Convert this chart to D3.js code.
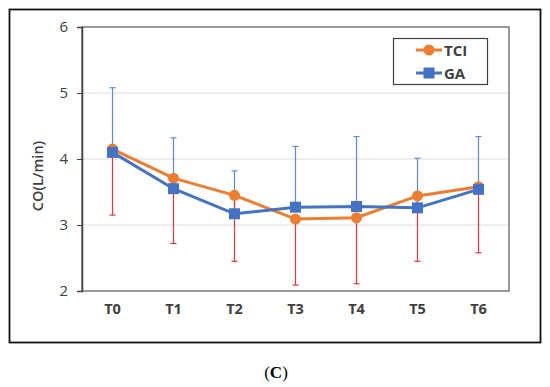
<!DOCTYPE html>
<html>
<head>
<meta charset="utf-8">
<script src="https://cdn.jsdelivr.net/npm/d3@7"></script>
<style>
  body { margin: 0; background: #fff; }
  svg text { font-family: "Open Sans", "Liberation Sans", sans-serif; }
</style>
</head>
<body>
<div id="chart"></div>
<script>
// time points
const categories = ["T0", "T1", "T2", "T3", "T4", "T5", "T6"];

// mean CO values per group
const tciMean = [4.15, 3.71, 3.45, 3.09, 3.11, 3.44, 3.58];
const gaMean  = [4.10, 3.55, 3.17, 3.27, 3.28, 3.26, 3.54];

// standard deviations (TCI shown downward, GA upward)
const tciSd = [1.00, 0.99, 1.00, 1.00, 1.00, 0.99, 1.00];
const gaSd  = [0.98, 0.77, 0.65, 0.92, 1.06, 0.75, 0.80];

const yTicks = [2, 3, 4, 5, 6];

const W = 550, H = 387;
const margin = {top: 27, right: 41, bottom: 96, left: 82};
const width = W - margin.left - margin.right,
      height = H - margin.top - margin.bottom;

const svg = d3.select("#chart")
  .append("svg")
  .attr("width", W)
  .attr("height", H);

// outer frame
svg.append("rect")
  .attr("x", 9.5).attr("y", 9.5)
  .attr("width", 531).attr("height", 333)
  .attr("fill", "none")
  .attr("stroke", "#111")
  .attr("stroke-width", 1.8);

const g = svg.append("g")
  .attr("transform", `translate(${margin.left},${margin.top})`);

const x = d3.scaleBand()
  .domain(categories)
  .range([0, width]);

const y = d3.scaleLinear()
  .domain([2, 6])
  .range([height, 0]);

// gridlines
g.append("g")
  .selectAll("line")
  .data(yTicks.slice(1, -1))
  .join("line")
    .attr("x1", 0).attr("x2", width)
    .attr("y1", d => y(d)).attr("y2", d => y(d))
    .attr("stroke", "#dcdcdc")
    .attr("stroke-width", 1);

// plot border
g.append("rect")
  .attr("width", width).attr("height", height)
  .attr("fill", "none")
  .attr("stroke", "#595959")
  .attr("stroke-width", 1.2);

// y axis
const yAxis = g.append("g")
  .call(d3.axisLeft(y).tickValues(yTicks).tickFormat(d3.format("d")).tickSize(5).tickPadding(9));
yAxis.select(".domain").attr("stroke", "#404040").attr("stroke-width", 1.5);
yAxis.selectAll(".tick line").attr("stroke", "#404040");
yAxis.selectAll("text")
  .style("font-size", "15px")
  .attr("fill", "#404040");

// x axis labels
const xAxis = g.append("g")
  .attr("transform", `translate(0,${height})`)
  .call(d3.axisBottom(x).tickSize(0).tickPadding(13));
xAxis.select(".domain").remove();
xAxis.selectAll("text")
  .style("font-size", "14.5px")
  .style("font-weight", 700)
  .attr("fill", "#404040");

const cx = d => x(d) + x.bandwidth() / 2;

// error bars
const cap = 3;
function errorBars(means, sds, dir, color) {
  const eb = g.append("g");
  categories.forEach((c, i) => {
    const y0 = y(means[i]), y1 = y(means[i] + dir * sds[i]);
    eb.append("line")
      .attr("x1", cx(c)).attr("x2", cx(c))
      .attr("y1", y0).attr("y2", y1)
      .attr("stroke", color).attr("stroke-width", 1.2);
    eb.append("line")
      .attr("x1", cx(c) - cap).attr("x2", cx(c) + cap)
      .attr("y1", y1).attr("y2", y1)
      .attr("stroke", color).attr("stroke-width", 1.2);
  });
}
errorBars(gaMean, gaSd, 1, "#5b8bd8");
errorBars(tciMean, tciSd, -1, "#e8343c");

const line = d3.line()
  .x((d, i) => cx(categories[i]))
  .y(d => y(d));

const orange = "#ed7d31", blue = "#4472c4";

// TCI line
g.append("path")
  .datum(tciMean)
  .attr("d", line)
  .attr("fill", "none")
  .attr("stroke", orange)
  .attr("stroke-width", 3);
g.append("g")
  .selectAll("circle")
  .data(tciMean)
  .join("circle")
    .attr("cx", (d, i) => cx(categories[i]))
    .attr("cy", d => y(d))
    .attr("r", 5.5)
    .attr("fill", orange);

// GA line
g.append("path")
  .datum(gaMean)
  .attr("d", line)
  .attr("fill", "none")
  .attr("stroke", blue)
  .attr("stroke-width", 3);
g.append("g")
  .selectAll("rect")
  .data(gaMean)
  .join("rect")
    .attr("x", (d, i) => cx(categories[i]) - 5.5)
    .attr("y", d => y(d) - 5.5)
    .attr("width", 11).attr("height", 11)
    .attr("fill", blue);

// y label
svg.append("text")
  .attr("transform", "translate(43,176) rotate(-90)")
  .attr("text-anchor", "middle")
  .style("font-size", "14.5px")
  .style("font-weight", 600)
  .attr("fill", "#404040")
  .text("CO(L/min)");

// legend
const legend = svg.append("g");
legend.append("rect")
  .attr("x", 393.5).attr("y", 38.5)
  .attr("width", 94).attr("height", 46)
  .attr("fill", "#fff")
  .attr("stroke", "#404040")
  .attr("stroke-width", 1.2);
const items = [{name: "TCI", color: orange, shape: "circle"}, {name: "GA", color: blue, shape: "square"}];
items.forEach((it, i) => {
  const ly = 50 + i * 23;
  legend.append("line")
    .attr("x1", 416).attr("x2", 442)
    .attr("y1", ly).attr("y2", ly)
    .attr("stroke", it.color).attr("stroke-width", 3);
  if (it.shape === "circle") {
    legend.append("circle").attr("cx", 429).attr("cy", ly).attr("r", 5.5).attr("fill", it.color);
  } else {
    legend.append("rect").attr("x", 423.5).attr("y", ly - 5.5).attr("width", 11).attr("height", 11).attr("fill", it.color);
  }
  legend.append("text")
    .attr("x", 444).attr("y", ly + 5.5)
    .style("font-size", "15px")
    .style("font-weight", 700)
    .attr("fill", "#404040")
    .text(it.name);
});

// panel caption
svg.append("text")
  .attr("x", 276).attr("y", 378)
  .attr("text-anchor", "middle")
  .style("font-family", "'Liberation Serif', 'DejaVu Serif', serif")
  .style("font-size", "17px")
  .attr("fill", "#000")
  .html('(<tspan font-weight="bold">C</tspan>)');
</script>
</body>
</html>
